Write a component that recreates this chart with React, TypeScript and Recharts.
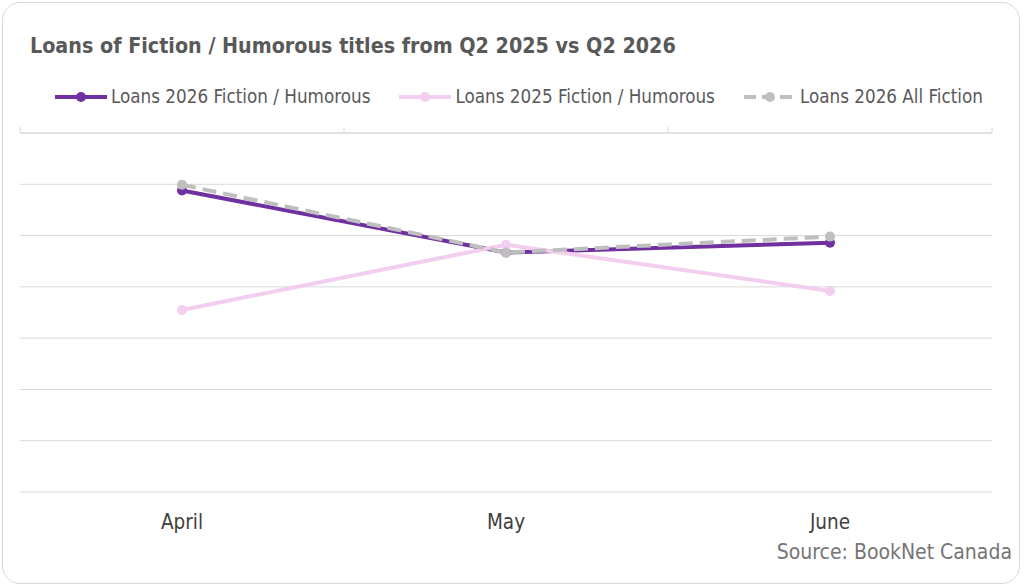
import { LineChart, Line, XAxis, YAxis, CartesianGrid } from "recharts";

const months = ["April", "May", "June"];
const loans2026Humorous = [5.88, 4.67, 4.86];
const loans2025Humorous = [3.55, 4.82, 3.92];
const loans2026AllFiction = [5.99, 4.67, 4.98];
const yTicks = [0, 1, 2, 3, 4, 5, 6, 7];
// category boundaries along the top axis (in month-index units)
const topTicks = [-0.5, 0.5, 1.5, 2.5];

const series = [
  { key: "h26", name: "Loans 2026 Fiction / Humorous", color: "#7030A0", dash: undefined },
  { key: "h25", name: "Loans 2025 Fiction / Humorous", color: "#F2CEEF", dash: undefined },
  { key: "all26", name: "Loans 2026 All Fiction", color: "#BFBFBF", dash: "14 7" },
];

const chartData = months.map((m, i) => ({
  month: m,
  idx: i,
  h26: loans2026Humorous[i],
  h25: loans2025Humorous[i],
  all26: loans2026AllFiction[i],
}));

const FONT = "'DejaVu Sans Condensed', 'Roboto', sans-serif";

function ChartLegend() {
  return (
    <div
      style={{
        position: "absolute",
        left: 55,
        top: 86,
        display: "flex",
        gap: 29,
        fontFamily: FONT,
        fontSize: 18.7,
        color: "#595959",
        whiteSpace: "nowrap",
      }}
    >
      {series.map((s) => (
        <div key={s.key} style={{ display: "flex", alignItems: "center" }}>
          <svg width={52} height={12}>
            <line x1={0} y1={6} x2={52} y2={6} stroke={s.color} strokeWidth={4} strokeDasharray={s.dash ? "12 6" : undefined} />
            <circle cx={26} cy={6} r={5} fill={s.color} />
          </svg>
          <span style={{ marginLeft: 4 }}>{s.name}</span>
        </div>
      ))}
    </div>
  );
}

// empty tick label so only the small tick marks show on the top axis
const NoLabel = () => <g />;

export default function App() {
  return (
    <div style={{ position: "absolute", left: 0, top: 0, width: 1024, height: 588, background: "#fff" }}>
      <div
        style={{
          position: "absolute",
          left: 2,
          top: 2,
          width: 1018,
          height: 582,
          boxSizing: "border-box",
          border: "1px solid #d9d9d9",
          borderRadius: 18,
        }}
      />
      <div
        style={{
          position: "absolute",
          left: 30,
          top: 33,
          fontFamily: FONT,
          fontWeight: "bold",
          fontSize: 21.3,
          color: "#595959",
          whiteSpace: "nowrap",
        }}
      >
        Loans of Fiction / Humorous titles from Q2 2025 vs Q2 2026
      </div>
      <ChartLegend />
      <div style={{ position: "absolute", left: 0, top: 0 }}>
        <LineChart width={1024} height={588} data={chartData} margin={{ top: 127, right: 32, left: 20, bottom: 56 }}>
          <CartesianGrid horizontal vertical={false} stroke="#d9d9d9" strokeWidth={1} />
          <XAxis
            dataKey="month"
            padding={{ left: 162, right: 162 }}
            axisLine={false}
            tickLine={false}
            tickMargin={16}
            height={40}
            tick={{ fontFamily: FONT, fontSize: 20.5, fill: "#404040" }}
          />
          <XAxis
            xAxisId="top"
            dataKey="idx"
            orientation="top"
            type="number"
            domain={[-0.5, 2.5]}
            ticks={topTicks}
            interval={0}
            allowDataOverflow
            height={6}
            tick={<NoLabel />}
            tickSize={6}
            axisLine={{ stroke: "#d9d9d9" }}
            tickLine={{ stroke: "#d9d9d9" }}
          />
          <YAxis hide domain={[0, 7]} ticks={yTicks} />
          {series.map((s) => (
            <Line
              key={s.key}
              dataKey={s.key}
              name={s.name}
              stroke={s.color}
              strokeWidth={4}
              strokeDasharray={s.dash}
              dot={{ r: 5, fill: s.color, stroke: s.color, strokeWidth: 0 }}
              activeDot={false}
              isAnimationActive={false}
            />
          ))}
        </LineChart>
      </div>
      <div style={{ position: "absolute", right: 12, top: 540, fontFamily: FONT, fontSize: 21, color: "#757575" }}>
        Source: BookNet Canada
      </div>
    </div>
  );
}
